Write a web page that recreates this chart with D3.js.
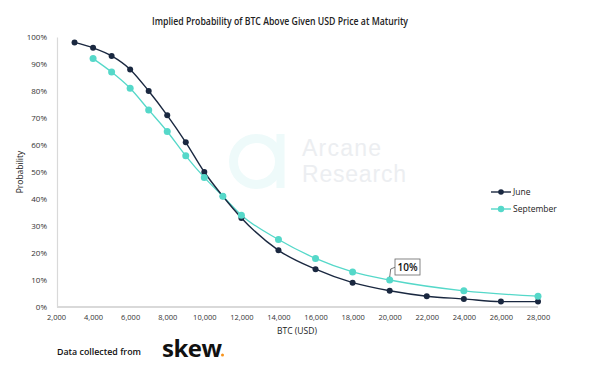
<!DOCTYPE html>
<html><head><meta charset="utf-8">
<script src="https://cdn.jsdelivr.net/npm/d3@7"></script>
<style>body{margin:0;background:#fff;font-family:"Open Sans","Noto Sans",sans-serif;}</style>
</head><body><svg id="c" width="611" height="371"></svg>
<script>
const juneX = [3000,4000,5000,6000,7000,8000,9000,10000,11000,12000,14000,16000,18000,20000,22000,24000,26000,28000];
const juneY = [98,96,93,88,80,71,61,50,41,33,21,14,9,6,4,3,2,2];
const septX = [4000,5000,6000,7000,8000,9000,10000,11000,12000,14000,16000,18000,20000,24000,28000];
const septY = [92,87,81,73,65,56,48,41,34,25,18,13,10,6,4];
const xTicks = [2000,4000,6000,8000,10000,12000,14000,16000,18000,20000,22000,24000,26000,28000];
const yTicks = [0,10,20,30,40,50,60,70,80,90,100];
const seriesNames = ["June","September"];

const svg = d3.select("#c");
const x = d3.scaleLinear().domain([2000,28000]).range([56,538]);
const y = d3.scaleLinear().domain([0,100]).range([307,37]);
const cJune = "#1a2840", cSept = "#55d8c9";

// watermark
const wm = svg.append("g");
wm.append("circle").attr("cx",256.5).attr("cy",161.5).attr("r",23).attr("fill","none").attr("stroke","#eefafa").attr("stroke-width",9);
wm.append("rect").attr("x",276.5).attr("y",134).attr("width",8).attr("height",54).attr("fill","#eefafa");
wm.append("text").attr("x",302).attr("y",156).attr("font-family","Liberation Sans, Arial, sans-serif").attr("font-size",23).attr("fill","#eceef1").attr("textLength",79).attr("lengthAdjust","spacing").text("Arcane");
wm.append("text").attr("x",302).attr("y",182).attr("font-family","Liberation Sans, Arial, sans-serif").attr("font-size",23).attr("fill","#eceef1").attr("textLength",104).attr("lengthAdjust","spacing").text("Research");

// title
svg.append("text").attr("x",280).attr("y",24.5).attr("text-anchor","middle").attr("font-size",10.8).attr("font-weight",600)
  .attr("textLength",256).attr("lengthAdjust","spacingAndGlyphs").attr("fill","#222").text("Implied Probability of BTC Above Given USD Price at Maturity");

// axes
const xa = svg.append("g").attr("transform","translate(0,307)").call(d3.axisBottom(x).tickValues(xTicks).tickSize(0).tickPadding(8).tickFormat(d3.format(",")));
xa.select(".domain").attr("stroke","#d9d9d9").attr("stroke-width",2).attr("d","M57,0H538");
xa.selectAll("text").attr("font-size",7.5).attr("fill","#333").attr("font-family","Open Sans, sans-serif");
const ya = svg.append("g").attr("transform","translate(57,0)").call(d3.axisLeft(y).tickValues(yTicks).tickSize(0).tickPadding(10).tickFormat(d=>d+"%"));
ya.select(".domain").attr("stroke","#d9d9d9").attr("stroke-width",1.2);
ya.selectAll("text").attr("font-size",8).attr("fill","#333").attr("font-family","Open Sans, sans-serif");

svg.append("text").attr("x",297).attr("y",334).attr("text-anchor","middle").attr("font-size",8.5).attr("fill","#222").text("BTC (USD)");
svg.append("text").attr("transform","translate(23,172) rotate(-90)").attr("text-anchor","middle").attr("font-size",8.5).attr("fill","#222").text("Probability");

// lines
const line = d3.line().x(d=>x(d[0])).y(d=>y(d[1])).curve(d3.curveMonotoneX);
const june = juneX.map((v,i)=>[v,juneY[i]]);
const sept = septX.map((v,i)=>[v,septY[i]]);
svg.append("path").datum(sept).attr("d",line).attr("fill","none").attr("stroke",cSept).attr("stroke-width",1.3);
svg.append("path").datum(june).attr("d",line).attr("fill","none").attr("stroke",cJune).attr("stroke-width",1.4);
svg.append("g").selectAll("circle").data(june).join("circle").attr("cx",d=>x(d[0])).attr("cy",d=>y(d[1])).attr("r",3).attr("fill",cJune);
svg.append("g").selectAll("circle").data(sept).join("circle").attr("cx",d=>x(d[0])).attr("cy",d=>y(d[1])).attr("r",3.5).attr("fill",cSept);

// annotation
const ax = x(20000), ay = y(10);
svg.append("path").attr("d",`M${ax},${ay-3}L${ax+1},${ay-11}L${ax+6},${ay-13}`).attr("fill","none").attr("stroke","#555").attr("stroke-width",0.8);
svg.append("rect").attr("x",395).attr("y",259).attr("width",25).attr("height",16).attr("fill","#fff").attr("stroke","#666").attr("stroke-width",0.8);
svg.append("text").attr("x",407.5).attr("y",271).attr("text-anchor","middle").attr("font-size",10).attr("font-weight",600).attr("fill","#111").text("10%");

// legend
const lg = svg.append("g");
[[cJune,192],[cSept,209]].forEach((c,i)=>{
  lg.append("line").attr("x1",491).attr("x2",511).attr("y1",c[1]).attr("y2",c[1]).attr("stroke",c[0]).attr("stroke-width",i?2:1.4).attr("opacity",i?0.7:1);
  lg.append("circle").attr("cx",501).attr("cy",c[1]).attr("r",i?3.2:2.8).attr("fill",c[0]);
  lg.append("text").attr("x",513).attr("y",c[1]+3).attr("font-size",8.5).attr("fill","#222").text(seriesNames[i]);
});

// footer
svg.append("text").attr("x",57).attr("y",354.5).attr("font-size",9).attr("font-weight",600).attr("fill","#111").attr("textLength",84).attr("lengthAdjust","spacingAndGlyphs").text("Data collected  from");
svg.append("text").attr("x",162).attr("y",357).attr("font-size",24).attr("font-weight",700).attr("fill","#111").attr("font-family","Open Sans, sans-serif").attr("letter-spacing",-0.5).text("skew");
svg.append("circle").attr("cx",222.5).attr("cy",355).attr("r",1.5).attr("fill","#f7931a");
</script></body></html>
